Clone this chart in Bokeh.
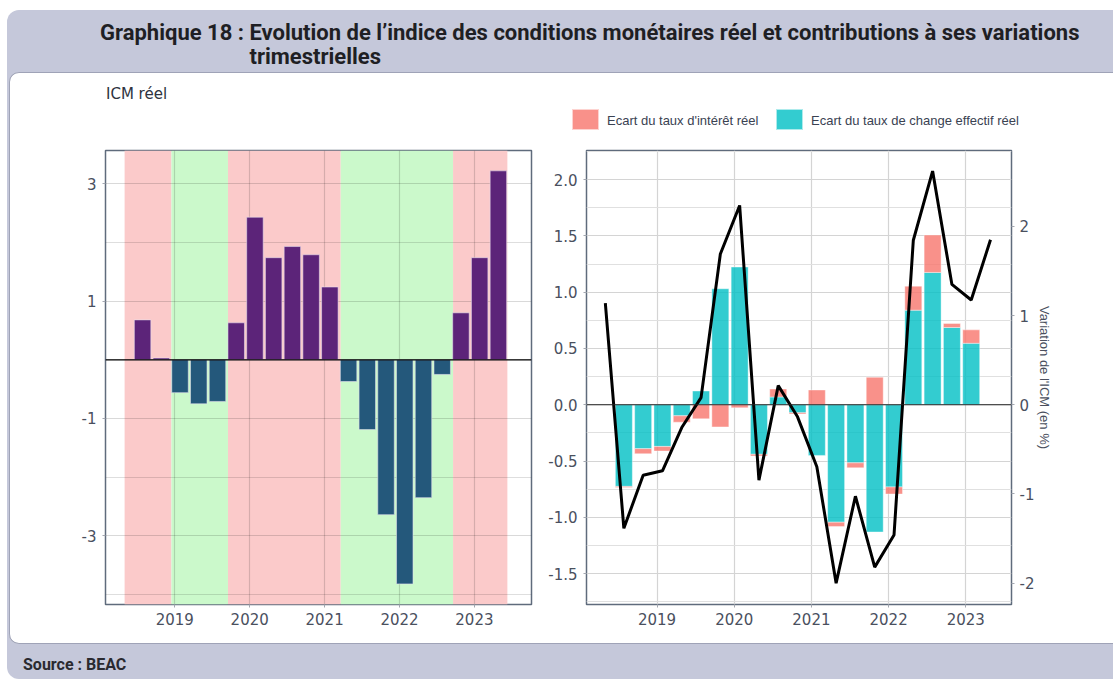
import numpy as np
from bokeh.plotting import figure
from bokeh.models import (Range1d, LinearAxis, FixedTicker, PrintfTickFormatter,
                          Span, Div, BoxAnnotation, Spacer)
from bokeh.layouts import row, column
from bokeh.embed import file_html
from bokeh.resources import INLINE

# ---------------- data ----------------
years = [2019, 2020, 2021, 2022, 2023]

# quarterly dates (decimal years)
dates_icm = [2018.57, 2018.82, 2019.07, 2019.32, 2019.57, 2019.82, 2020.07, 2020.32,
             2020.57, 2020.82, 2021.07, 2021.32, 2021.57, 2021.82, 2022.07, 2022.32,
             2022.57, 2022.82, 2023.07, 2023.32]
icm_reel = [0.68, 0.03, -0.56, -0.75, -0.71, 0.63, 2.43, 1.74, 1.93, 1.79, 1.24,
            -0.37, -1.19, -2.64, -3.82, -2.35, -0.25, 0.80, 1.74, 3.22]

regime_start = [2018.33, 2018.955, 2019.71, 2021.215, 2022.715]
regime_end = [2018.955, 2019.71, 2021.215, 2022.715, 2023.44]
regime_kind = ["restrictif", "accommodant", "restrictif", "accommodant", "restrictif"]

dates_contrib = dates_icm[:19]
ecart_change = [-0.725, -0.39, -0.37, -0.098, 0.122, 1.03, 1.223, -0.44, 0.069, -0.072,
                -0.45, -1.043, -0.516, -1.13, -0.73, 0.84, 1.175, 0.686, 0.546]
ecart_interet = [-0.01, -0.045, -0.041, -0.057, -0.125, -0.197, -0.027, -0.015, 0.071,
                 -0.011, 0.131, -0.039, -0.044, 0.244, -0.063, 0.213, 0.332, 0.036, 0.119]

dates_variation = [2018.33] + dates_icm
variation_icm = [1.14, -1.385, -0.79, -0.74, -0.255, 0.08, 1.69, 2.235, -0.845, 0.215,
                 -0.135, -0.695, -2.0, -1.025, -1.82, -1.46, 1.845, 2.62, 1.35, 1.175, 1.85]

left_y_ticks = [-3, -1, 1, 3]
left_y_minor = [-4, -2, 0, 2]
right_y_ticks = [-1.5, -1.0, -0.5, 0.0, 0.5, 1.0, 1.5, 2.0]
right_y_minor = [-1.75, -1.25, -0.75, -0.25, 0.25, 0.75, 1.25, 1.75, 2.25]
sec_y_ticks = [-2, -1, 0, 1, 2]

legend_labels = ["Ecart du taux d'intérêt réel", "Ecart du taux de change effectif réel"]

# ---------------- styles ----------------
TICK_FONT = "DejaVu Sans"
TICK_COLOR = "#4a505e"
FRAME_COLOR = "#5f6b7c"
PURPLE = "#5c2479"
BLUE = "#24587b"
PINK = "#fbcaca"
GREEN = "#cbf9cb"
RED = "#F8766D"
CYAN = "#00BFC4"


def style_axis(ax):
    ax.axis_line_color = None
    ax.major_tick_out = 3
    ax.major_tick_in = 0
    ax.major_tick_line_color = "#a3a7b0"
    ax.minor_tick_line_color = None
    ax.major_label_text_font = TICK_FONT
    ax.major_label_text_font_size = "15px"
    ax.major_label_text_color = TICK_COLOR
    ax.major_label_standoff = 5


# ---------------- left figure ----------------
p1 = figure(width=536, height=512, x_range=Range1d(2018.075, 2023.762),
            y_range=Range1d(-4.171, 3.567), output_backend="svg", toolbar_location=None,
            min_border_left=96, min_border_right=14, min_border_top=18, min_border_bottom=40)
p1.border_fill_alpha = 0
p1.background_fill_color = "white"
p1.outline_line_color = FRAME_COLOR
p1.outline_line_width = 1.5

for s, e, k in zip(regime_start, regime_end, regime_kind):
    p1.add_layout(BoxAnnotation(left=s, right=e, fill_color=PINK if k == "restrictif" else GREEN,
                                fill_alpha=1, line_color=None, level="image"))

p1.xaxis.ticker = FixedTicker(ticks=years)
p1.yaxis.ticker = FixedTicker(ticks=left_y_ticks, minor_ticks=left_y_minor)
p1.yaxis.formatter = PrintfTickFormatter(format="%d")
style_axis(p1.xaxis[0])
style_axis(p1.yaxis[0])
for g in (p1.xgrid[0], p1.ygrid[0]):
    g.grid_line_color = "black"
    g.grid_line_alpha = 0.15
    g.grid_line_width = 1.2
p1.ygrid.minor_grid_line_color = "black"
p1.ygrid.minor_grid_line_alpha = 0.13
p1.ygrid.minor_grid_line_width = 1.2

bar_colors = [PURPLE if v >= 0 else BLUE for v in icm_reel]
p1.vbar(x=dates_icm, top=icm_reel, bottom=0, width=0.22, fill_color=bar_colors,
        line_color="#e8e0f0", line_alpha=0.7, line_width=0.8)
p1.add_layout(Span(location=0, dimension="width", line_color="black", line_width=1.2))

# ---------------- right figure ----------------
p2 = figure(width=568, height=512, x_range=Range1d(2018.086, 2023.592),
            y_range=Range1d(-1.774, 2.258), output_backend="svg", toolbar_location=None,
            min_border_left=41, min_border_right=102, min_border_top=18, min_border_bottom=40)
p2.border_fill_alpha = 0
p2.background_fill_color = "white"
p2.outline_line_color = FRAME_COLOR
p2.outline_line_width = 1.5
p2.extra_y_ranges = {"icm": Range1d(-2.239, 2.851)}

left_ticker = FixedTicker(ticks=right_y_ticks, minor_ticks=right_y_minor)
p2.xaxis.ticker = FixedTicker(ticks=years)
p2.yaxis.ticker = left_ticker
p2.yaxis.formatter = PrintfTickFormatter(format="%.1f")
style_axis(p2.xaxis[0])
style_axis(p2.yaxis[0])
p2.ygrid.ticker = left_ticker
for g in (p2.xgrid[0], p2.ygrid[0]):
    g.grid_line_color = "#d4d4d4"
    g.grid_line_width = 1.2
p2.ygrid.minor_grid_line_color = "#e0e0e0"
p2.ygrid.minor_grid_line_width = 1.0

ax2 = LinearAxis(y_range_name="icm", ticker=FixedTicker(ticks=sec_y_ticks),
                 formatter=PrintfTickFormatter(format="%d"),
                 axis_label="Variation de l'ICM (en %)")
style_axis(ax2)
ax2.axis_label_text_font = "Liberation Sans"
ax2.axis_label_text_font_size = "13px"
ax2.axis_label_text_font_style = "normal"
ax2.axis_label_text_color = TICK_COLOR
ax2.axis_label_standoff = 0
p2.add_layout(ax2, "right")

ch = np.array(ecart_change)
it = np.array(ecart_interet)
same_sign = np.sign(ch) == np.sign(it)
it_bottom = np.where(same_sign, ch, 0.0)
it_top = it_bottom + it

p2.vbar(x=dates_contrib, bottom=0, top=ecart_change, width=0.22,
        fill_color=CYAN, fill_alpha=0.8, line_color="white", line_alpha=0.5, line_width=0.8)
p2.vbar(x=dates_contrib, bottom=it_bottom, top=it_top, width=0.22,
        fill_color=RED, fill_alpha=0.8, line_color="white", line_alpha=0.5, line_width=0.8)
p2.add_layout(Span(location=0, dimension="width", line_color="#222222", line_width=1.1))
p2.line(dates_variation, variation_icm, y_range_name="icm", line_color="black", line_width=3)

# ---------------- headers (y title and legend) ----------------
icm_title = Div(text='<div style="position:relative; font-family:\'DejaVu Sans\'; font-size:15px;'
                     ' color:#2e3340; padding:13px 0 0 97px; line-height:18px;">ICM réel</div>',
                width=536, height=60, margin=(0, 0, 0, 0))

sw = "position:absolute; top:37px; width:27px; height:21px; box-sizing:border-box; border:1px solid rgba(255,255,255,0.6);"
tx = ("position:absolute; top:41px; line-height:15px; font-family:'Liberation Sans'; font-size:13px;"
      " color:#3a4252; white-space:nowrap;")
legend_html = (
    '<div style="position:relative; width:568px; height:60px;">'
    f'<div style="{sw} left:27px; background:rgba(248,118,109,0.8);"></div>'
    f'<span style="{tx} left:62px;">{legend_labels[0]}</span>'
    f'<div style="{sw} left:231px; background:rgba(0,191,196,0.8);"></div>'
    f'<span style="{tx} left:266px;">{legend_labels[1]}</span>'
    '</div>'
)
legend_div = Div(text=legend_html, width=568, height=60, margin=(0, 0, 0, 0))

# ---------------- page layout ----------------
title_html = (
    '<div style="font-family:Roboto, sans-serif; font-weight:700; font-size:22px; color:#1f1f24;'
    ' letter-spacing:0px; padding:11px 0 0 93px; line-height:24px; display:flex; white-space:nowrap;">'
    '<span>Graphique 18 :&nbsp;</span>'
    '<span>Evolution de l’indice des conditions monétaires réel et contributions à ses variations'
    '<br>trimestrielles</span></div>'
)
title_div = Div(text=title_html, width=1106, height=62, margin=(0, 0, 0, 0))

source_div = Div(text='<div style="font-family:Roboto, sans-serif; font-weight:700; font-size:16px;'
                      ' color:#2a2a30; padding:11px 0 0 16px; line-height:20px;">Source : BEAC</div>',
                 width=1106, height=35, margin=(0, 0, 0, 0))

panel = row(column(icm_title, p1, width=536, height=572),
            column(legend_div, p2, width=568, height=572),
            width=1104, height=572,
            styles={"background-color": "white", "border-radius": "10px 0 0 10px",
                    "box-shadow": "inset 1px 0 0 #9fa3b7, inset 0 1px 0 #9fa3b7, inset 0 -1px 0 #9fa3b7"})

box = column(title_div, row(Spacer(width=2, height=572), panel, width=1106, height=572),
             source_div, width=1106, height=669,
             styles={"background-color": "#c5c8da", "border-radius": "12px 0 0 12px"})

page = column(Spacer(width=1113, height=10),
              row(Spacer(width=7, height=669), box, width=1113, height=669),
              width=1113, height=679)

open("out.html", "w").write(file_html(page, INLINE))
